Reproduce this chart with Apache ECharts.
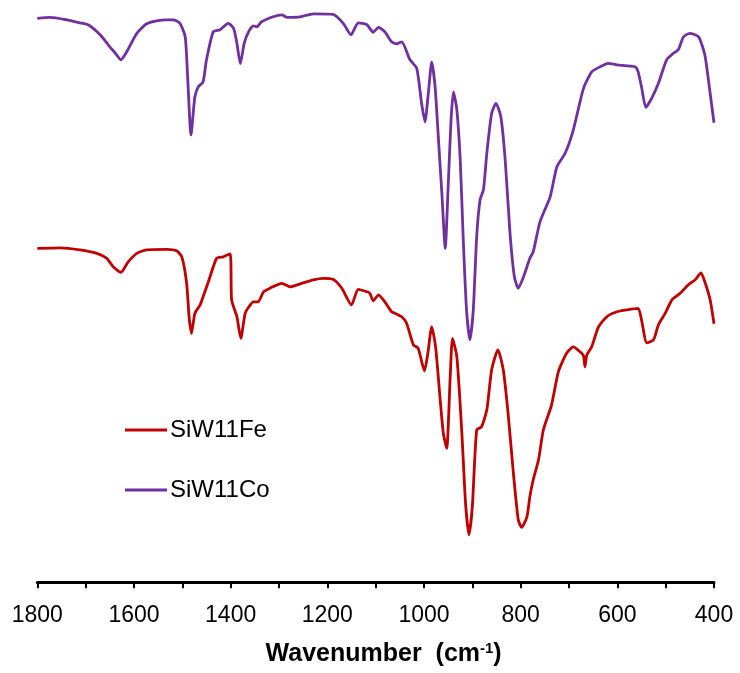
<!DOCTYPE html>
<html>
<head>
<meta charset="utf-8">
<script src="https://cdn.jsdelivr.net/npm/echarts@6/dist/echarts.min.js"></script>
<style>
  html, body { margin: 0; padding: 0; background: #fff; }
  #chart { width: 740px; height: 673px; }
</style>
</head>
<body>
<div id="chart"></div>
<script>
// 红外光谱 (FTIR)，纵坐标为任意单位的透过率，曲线已错开
const SERIES_NAMES = ["SiW11Fe", "SiW11Co"];

const CO_WAVENUMBER = [1800, 1774, 1739, 1712, 1695, 1670, 1650, 1639, 1627, 1615, 1594, 1574, 1553, 1532, 1519, 1505,
    1494, 1489, 1482, 1474, 1467, 1457, 1450, 1436, 1422, 1405, 1394, 1387, 1380, 1372, 1363, 1353, 1346, 1336,
    1312, 1294, 1284, 1256, 1229, 1188, 1167, 1151, 1136, 1118, 1105, 1094, 1081, 1067, 1056, 1046, 1029, 1015,
    1005, 998, 991, 984, 977, 970, 963, 956, 950, 944, 939, 932, 925, 919, 912, 905, 898, 891, 884, 877, 870,
    860, 851, 841, 832, 822, 813, 805, 794, 781, 774, 760, 739, 725, 708, 691, 670, 653, 636, 619, 601, 563,
    557, 550, 541, 529, 515, 498, 484, 474, 463, 450, 432, 419, 408, 400];
const CO_T = [112.8, 113.0, 112.5, 111.9, 111.5, 109.5, 107.1, 105.9, 104.5, 106.1, 109.8, 111.7, 112.3, 112.5, 112.5, 111.8,
    109.1, 101.1, 89.5, 97.1, 99.1, 100.1, 104.5, 110.1, 110.5, 111.8, 110.8, 107.8, 103.7, 107.8, 110.1, 111.3, 111.1, 112.1,
    113.1, 113.5, 113.0, 113.1, 113.7, 113.6, 111.8, 109.5, 111.9, 111.5, 110.0, 111.0, 110.1, 108.1, 107.7, 108.1, 104.5, 102.8,
    95.8, 92.1, 97.8, 104.1, 99.1, 88.5, 77.8, 66.8, 79.1, 92.5, 98.1, 94.5, 84.5, 69.1, 54.5, 48.5, 54.5, 69.1, 76.5, 78.5, 85.8,
    93.8, 95.8, 93.1, 84.5, 69.8, 61.1, 58.8, 61.1, 64.8, 66.1, 72.1, 77.1, 83.1, 85.8, 90.5, 98.8, 102.1, 103.1, 103.8, 103.5, 103.1,
    102.1, 99.1, 95.0, 96.8, 99.8, 104.5, 105.8, 106.5, 109.1, 109.8, 109.1, 105.5, 97.8, 91.9];

const FE_WAVENUMBER = [1800, 1753, 1712, 1677, 1656, 1643, 1627, 1612, 1594, 1574, 1532, 1512, 1501, 1491, 1486, 1481,
    1474, 1463, 1457, 1446, 1429, 1415, 1401, 1398, 1387, 1379, 1370, 1363, 1353, 1343, 1332, 1319, 1294, 1277,
    1256, 1229, 1208, 1188, 1170, 1150, 1136, 1118, 1112, 1105, 1094, 1081, 1067, 1060, 1046, 1036, 1022, 1012,
    999, 992, 984, 976, 967, 960, 953, 946, 941, 932, 922, 914, 907, 900, 891, 881, 870, 860, 847, 836, 826,
    815, 805, 798, 787, 781, 774, 763, 753, 736, 722, 705, 691, 677, 670, 667, 663, 653, 639, 622, 601, 580,
    557, 550, 539, 525, 515, 501, 487, 470, 453, 439, 427, 419, 408, 400];
const FE_T = [66.8, 66.9, 66.5, 65.8, 64.8, 63.1, 62.0, 64.1, 65.8, 66.5, 66.6, 66.3, 65.1, 59.8, 53.1, 49.8,
    53.8, 55.5, 57.1, 60.1, 64.8, 65.1, 65.7, 56.5, 53.1, 48.8, 53.8, 55.0, 56.1, 56.1, 58.1, 58.8, 59.8, 59.1,
    59.7, 60.5, 60.8, 60.6, 58.8, 55.5, 58.6, 58.1, 57.8, 56.3, 57.5, 56.1, 54.1, 53.8, 53.1, 51.8, 47.5, 46.8,
    42.3, 45.8, 51.1, 47.1, 37.1, 29.8, 26.8, 40.5, 48.8, 45.1, 30.5, 15.8, 9.5, 15.1, 30.5, 31.1, 34.5, 42.5, 46.5, 42.5, 33.8,
    21.8, 12.5, 11.0, 13.1, 17.1, 20.5, 24.5, 30.5, 35.5, 42.1, 45.8, 47.1, 46.1, 45.3, 43.1, 45.5, 47.1, 51.1, 53.1, 54.1, 54.5,
    54.8, 52.5, 47.9, 48.5, 51.5, 53.8, 56.5, 57.8, 59.5, 60.5, 61.9, 60.1, 56.5, 51.7];

const X_TICKS = { min: 400, max: 1800, step: 100, labelStep: 200 };

function pairs(xs, ys) {
    return xs.map((x, i) => [x, ys[i]]);
}

const chart = echarts.init(document.getElementById("chart"));
const FONT = "Liberation Sans, Arial, sans-serif";

chart.setOption({
    backgroundColor: "#fff",
    animation: false,
    grid: { left: 37.3, right: 26, top: 2.3, bottom: 90.7 },
    legend: {
        data: SERIES_NAMES,
        orient: "vertical",
        left: 120,
        top: 412,
        icon: "rect",
        itemWidth: 42,
        itemHeight: 3,
        itemGap: 34,
        textStyle: { fontFamily: FONT, fontSize: 24, color: "#000", lineHeight: 26, padding: [0, 0, 0, -2] },
    },
    xAxis: {
        type: "value",
        inverse: true,
        min: X_TICKS.min,
        max: X_TICKS.max,
        interval: X_TICKS.step,
        splitLine: { show: false },
        axisLine: { show: true, lineStyle: { color: "#000", width: 3 } },
        axisTick: { show: true, inside: false, length: 6, lineStyle: { color: "#000", width: 2 } },
        axisLabel: {
            margin: 22,
            fontFamily: FONT,
            fontSize: 23,
            color: "#000",
            formatter: v => (v % X_TICKS.labelStep === 0 ? String(v) : ""),
        },
        name: "Wavenumber  (cm{sup|-1})",
        nameLocation: "middle",
        nameGap: 59,
        nameTextStyle: {
            fontFamily: FONT,
            fontSize: 25,
            fontWeight: "bold",
            color: "#000",
            padding: [0, 0, 0, 16],
            rich: {
                sup: { fontFamily: FONT, fontSize: 15, fontWeight: "bold", color: "#000", padding: [0, 0, 11, 0] },
            },
        },
    },
    yAxis: {
        type: "value",
        min: 0,
        max: 116,
        show: false,
        splitLine: { show: false },
    },
    series: [
        {
            name: "SiW11Co",
            type: "line",
            data: pairs(CO_WAVENUMBER, CO_T),
            symbol: "none",
            smooth: 0.2,
            lineStyle: { color: "#7030A0", width: 2.8 },
            itemStyle: { color: "#7030A0" },
        },
        {
            name: "SiW11Fe",
            type: "line",
            data: pairs(FE_WAVENUMBER, FE_T),
            symbol: "none",
            smooth: 0.2,
            lineStyle: { color: "#C00000", width: 2.8 },
            itemStyle: { color: "#C00000" },
        },
    ],
});
</script>
</body>
</html>
